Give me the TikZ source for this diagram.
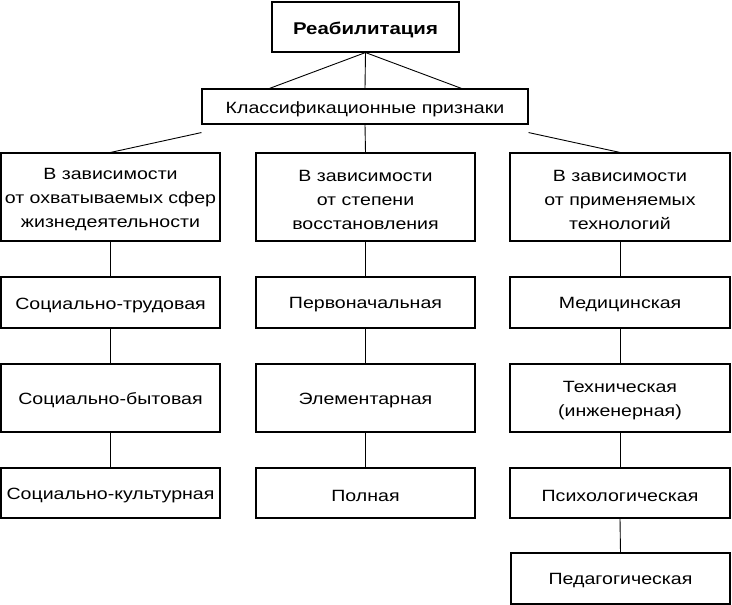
\documentclass[tikz,border=0pt]{standalone}
\usepackage{fontspec}
\setmainfont{Liberation Sans}[FakeStretch=1.2]
\begin{document}
\begin{tikzpicture}[x=1pt,y=-1pt,
  box/.style={draw,line width=1.1pt,inner sep=0pt},
  txt/.style={inner sep=0pt,font=\fontsize{16.3}{24}\selectfont,align=center},
  conn/.style={line width=0.9pt}]
\useasboundingbox (0,0) rectangle (732,605);
\newcommand{\bx}[6]{\node[box,minimum width=#4-#2,minimum height=#5-#3] (#1) at ({(#2+#4)/2},{(#3+#5)/2}) {};
  \node[txt] at ([yshift=-2.5pt]#1.center) {#6};}
\bx{top}{272}{2}{459}{52}{\fontsize{17}{20}\selectfont\bfseries Реабилитация}
\bx{kl}{202}{89}{528}{124}{Классификационные признаки}
\bx{a}{1}{153}{220}{241}{В зависимости\\от охватываемых сфер\\жизнедеятельности}
\bx{b}{256}{153}{475}{241}{В зависимости\\от степени\\восстановления}
\bx{c}{510}{153}{730}{241}{В зависимости\\от применяемых\\технологий}
\bx{a1}{1}{277}{220}{328}{Социально-трудовая}
\bx{a2}{1}{364}{220}{432}{Социально-бытовая}
\bx{a3}{1}{468}{220}{518}{Социально-культурная}
\bx{b1}{256}{277}{475}{328}{Первоначальная}
\bx{b2}{256}{364}{475}{432}{Элементарная}
\bx{b3}{256}{468}{475}{518}{Полная}
\bx{c1}{510}{277}{730}{328}{Медицинская}
\bx{c2}{510}{364}{730}{432}{Техническая\\(инженерная)}
\bx{c3}{510}{468}{730}{518}{Психологическая}
\bx{c4}{511}{553}{730}{604}{Педагогическая}
\draw[conn] (top.south) -- (kl.north);
\draw[conn] (top.south) -- ([xshift=68pt]kl.north west);
\draw[conn] (top.south) -- ([xshift=-67pt]kl.north east);
\draw[conn] (kl.south) -- (b.north);
\draw[conn] ([yshift=-8pt]kl.south west) -- (a.north);
\draw[conn] ([yshift=-8pt]kl.south east) -- (c.north);
\foreach \u/\v in {a/a1,a1/a2,a2/a3,b/b1,b1/b2,b2/b3,c/c1,c1/c2,c2/c3,c3/c4}
  \draw[conn] (\u.south) -- (\v.north);
\end{tikzpicture}
\end{document}
